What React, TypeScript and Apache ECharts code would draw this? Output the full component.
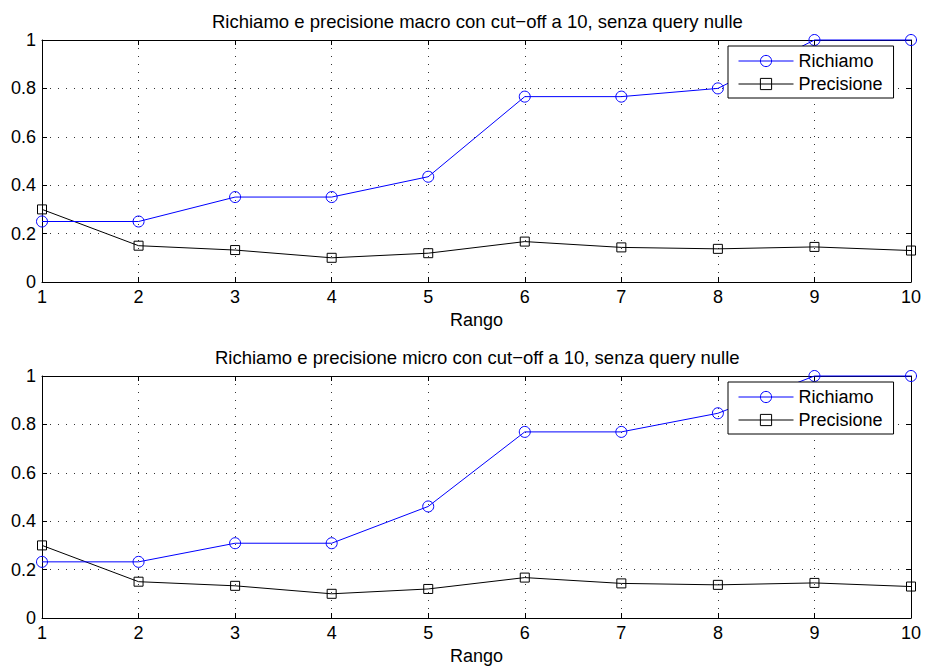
import React, { useEffect, useRef } from "react";
import * as echarts from "echarts";

const ranks = [1, 2, 3, 4, 5, 6, 7, 8, 9, 10];
const macroRecall = [0.25, 0.25, 0.351, 0.351, 0.435, 0.766, 0.766, 0.8, 1.0, 1.0];
const macroPrecision = [0.3, 0.15, 0.132, 0.1, 0.119, 0.167, 0.143, 0.137, 0.145, 0.13];
const microRecall = [0.232, 0.232, 0.309, 0.309, 0.461, 0.769, 0.769, 0.846, 1.0, 1.0];
const microPrecision = [0.3, 0.15, 0.133, 0.1, 0.12, 0.167, 0.143, 0.137, 0.145, 0.13];
const titles = [
  "Richiamo e precisione macro con cut\u2212off a 10, senza query nulle",
  "Richiamo e precisione micro con cut\u2212off a 10, senza query nulle",
];
const seriesNames = ["Richiamo", "Precisione"];
const xName = "Rango";

const FONT = "'Liberation Sans', Arial, Helvetica, sans-serif";
const FS = 18;

export default function App() {
  const ref = useRef<HTMLDivElement>(null);
  useEffect(() => {
    if (!ref.current) return;
    const chart = echarts.init(ref.current, undefined, { renderer: "svg" });
    const grids = [
      { left: 42, top: 40, width: 869, height: 242 },
      { left: 42, top: 376, width: 869, height: 242 },
    ];
    const xAxes: any[] = [];
    const yAxes: any[] = [];
    grids.forEach((_, gi) => {
      xAxes.push({
        type: "value",
        gridIndex: gi,
        position: "bottom",
        min: 1,
        max: 10,
        interval: 1,
        name: xName,
        nameLocation: "middle",
        nameGap: 29,
        nameTextStyle: { fontSize: FS, color: "#000", fontFamily: FONT },
        axisLine: { show: true, onZero: false, lineStyle: { color: "#000", width: 1 } },
        axisTick: { show: true, inside: true, length: 5, lineStyle: { color: "#000" } },
        axisLabel: { fontSize: FS, color: "#000", fontFamily: FONT, margin: 6 },
        splitLine: { show: true, lineStyle: { color: "#333", width: 1, type: [1, 7] } },
      });
      xAxes.push({
        type: "value",
        gridIndex: gi,
        position: "top",
        min: 1,
        max: 10,
        interval: 1,
        axisLine: { show: true, onZero: false, lineStyle: { color: "#000", width: 1 } },
        axisTick: { show: true, inside: true, length: 5, lineStyle: { color: "#000" } },
        axisLabel: { show: false },
        splitLine: { show: false },
      });
      yAxes.push({
        type: "value",
        gridIndex: gi,
        position: "left",
        min: 0,
        max: 1,
        interval: 0.2,
        axisLine: { show: true, onZero: false, lineStyle: { color: "#000", width: 1 } },
        axisTick: { show: true, inside: true, length: 5, lineStyle: { color: "#000" } },
        axisLabel: { fontSize: FS, color: "#000", fontFamily: FONT, margin: 6 },
        splitLine: { show: true, lineStyle: { color: "#333", width: 1, type: [1, 7] } },
      });
      yAxes.push({
        type: "value",
        gridIndex: gi,
        position: "right",
        min: 0,
        max: 1,
        interval: 0.2,
        axisLine: { show: true, onZero: false, lineStyle: { color: "#000", width: 1 } },
        axisTick: { show: true, inside: true, length: 5, lineStyle: { color: "#000" } },
        axisLabel: { show: false },
        splitLine: { show: false },
      });
    });

    const mk = (name: string, vals: number[], gi: number, color: string, symbol: string, size: number) => ({
      type: "line",
      name,
      xAxisIndex: gi * 2,
      yAxisIndex: gi * 2,
      data: ranks.map((r, i) => [r, vals[i]]),
      symbol,
      symbolSize: size,
      showAllSymbol: true,
      clip: false,
      lineStyle: { color, width: 1 },
      itemStyle: { color: "rgba(255,255,255,0)", borderColor: color, borderWidth: 1 },
      emphasis: { disabled: true },
      z: name === seriesNames[0] ? 3 : 2,
    });

    const legendBase = {
      orient: "vertical",
      left: 728,
      data: seriesNames,
      itemWidth: 55,
      itemHeight: 14,
      itemGap: 5,
      padding: [6, 11, 5, 10],
      backgroundColor: "#fff",
      borderColor: "#000",
      borderWidth: 1,
      borderRadius: 0,
      selectedMode: false,
      lineStyle: { width: 1 },
      itemStyle: { borderWidth: 1 },
      textStyle: { fontSize: FS, color: "#000", fontFamily: FONT },
    };

    const titleStyle = { fontSize: 18.5, fontWeight: "normal", color: "#000", fontFamily: FONT };

    chart.setOption({
      animation: false,
      backgroundColor: "#fff",
      title: [
        { text: titles[0], left: 207, top: 7, padding: 5, textStyle: titleStyle },
        { text: titles[1], left: 210, top: 343, padding: 5, textStyle: titleStyle },
      ],
      legend: [
        { ...legendBase, top: 46 },
        { ...legendBase, top: 382 },
      ],
      grid: grids.map((g) => ({ ...g, containLabel: false })),
      xAxis: xAxes,
      yAxis: yAxes,
      series: [
        mk(seriesNames[0], macroRecall, 0, "#0000ff", "circle", 11),
        mk(seriesNames[1], macroPrecision, 0, "#000000", "rect", 9),
        mk(seriesNames[0], microRecall, 1, "#0000ff", "circle", 11),
        mk(seriesNames[1], microPrecision, 1, "#000000", "rect", 9),
      ],
    });
    return () => chart.dispose();
  }, []);
  return (
    <div
      ref={ref}
      style={{ position: "fixed", left: 0, top: 0, width: 926, height: 669, background: "#fff" }}
    />
  );
}
